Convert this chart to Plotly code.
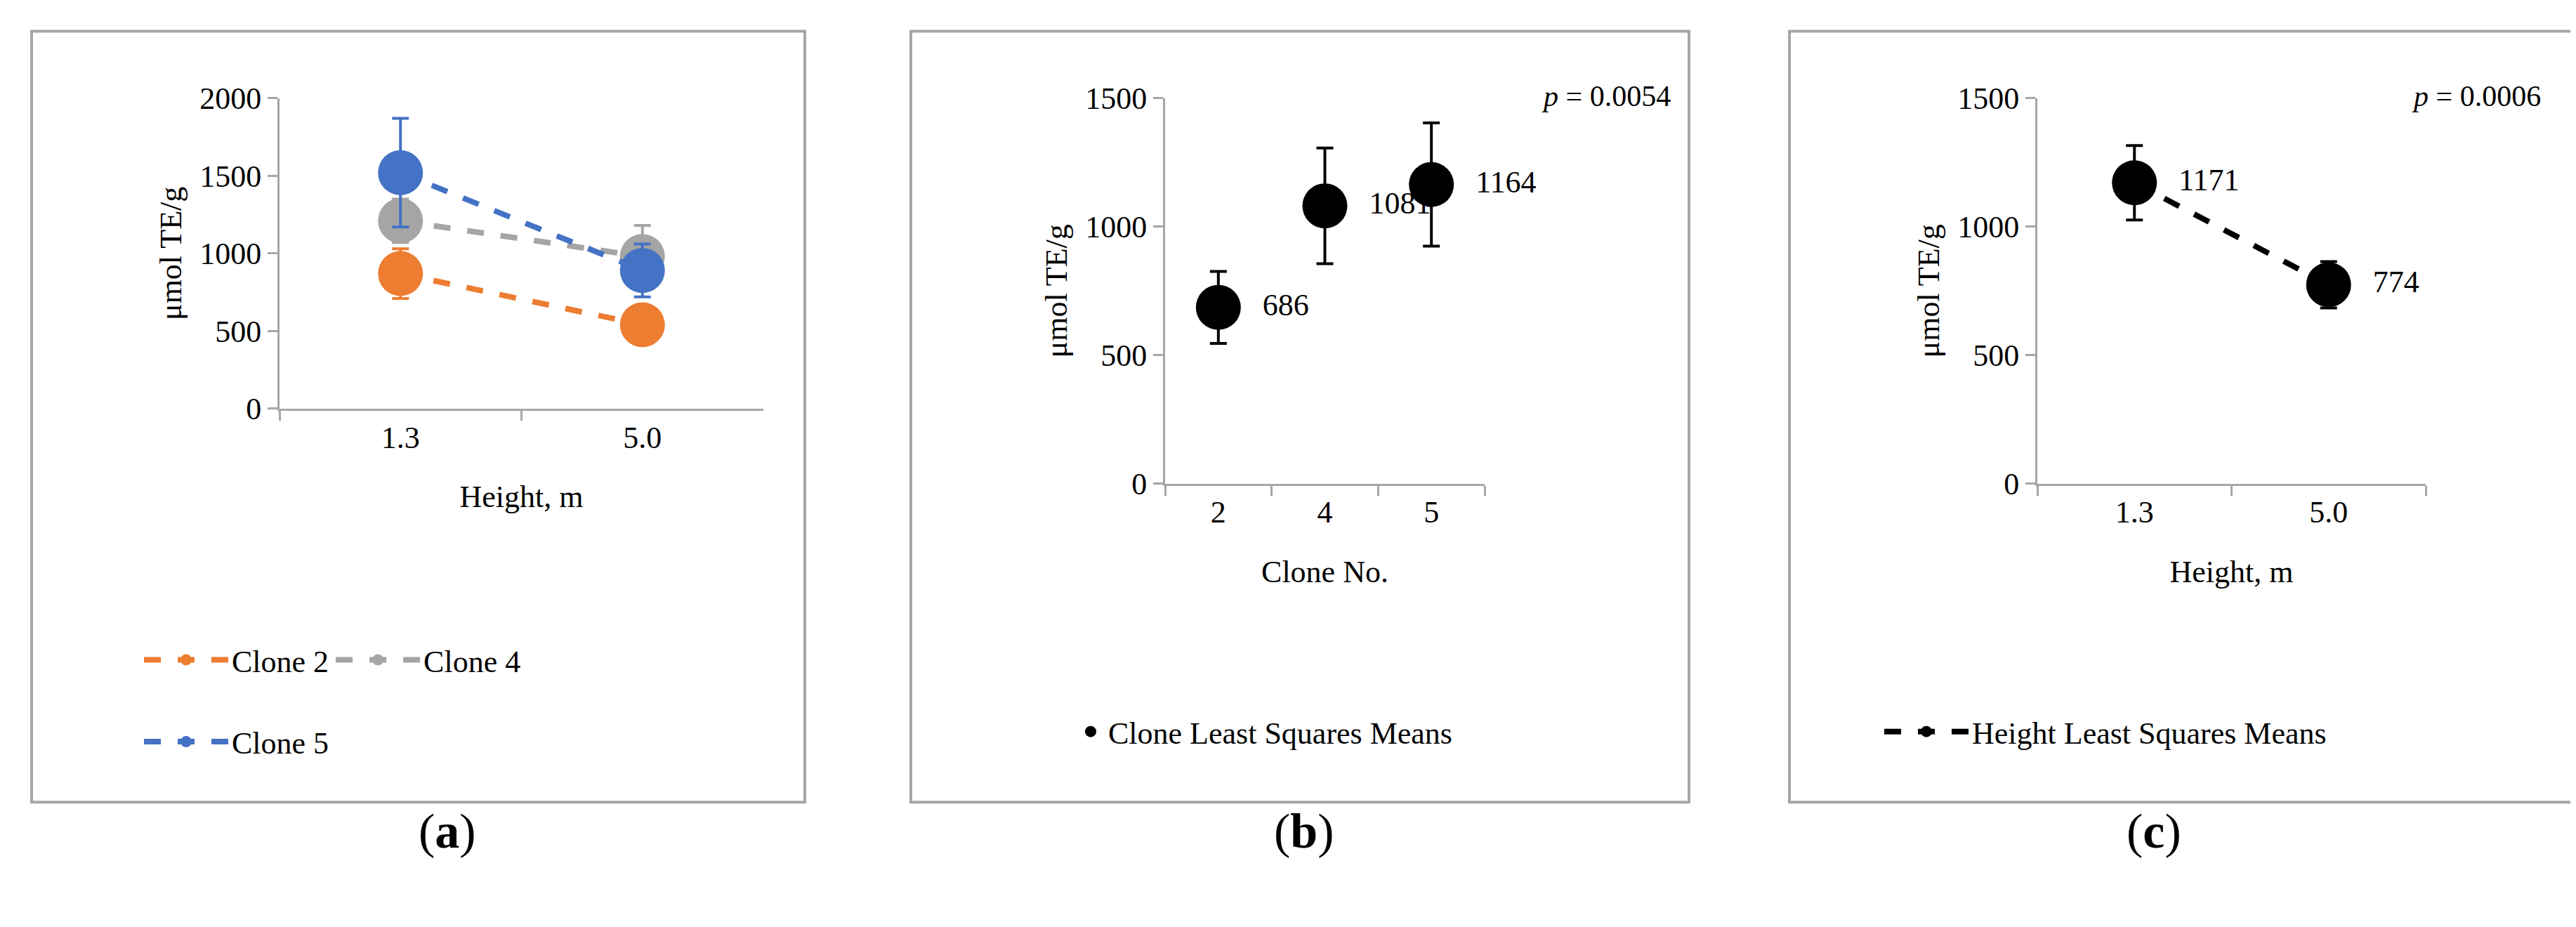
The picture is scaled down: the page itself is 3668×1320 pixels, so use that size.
import plotly.graph_objects as go

heights = ["1.3", "5.0"]
clone2 = [870, 540]; clone2_err = [160, 100]
clone4 = [1210, 980]; clone4_err = [140, 200]
clone5 = [1520, 890]; clone5_err = [350, 170]
clones = ["2", "4", "5"]
clone_means = [686, 1081, 1164]; clone_err = [140, 225, 240]
height_means = [1171, 774]; height_err = [145, 90]

FONT = "Liberation Serif"
AX = "#a6a6a6"
W, H = 3668, 1320
fig = go.Figure()

def add_series(x, y, err, color, name, xa, ya, legend, mode="lines+markers", text=None):
    fig.add_trace(go.Scatter(
        x=x, y=y, xaxis=xa, yaxis=ya, name=name, legend=legend, mode=mode,
        line=dict(color=color, width=8, dash="dash"),
        marker=dict(color=color, size=64),
        error_y=dict(type="data", array=err, color=color, thickness=4, width=12),
        text=text, textposition="middle right",
        textfont=dict(family=FONT, size=44, color="black"),
        cliponaxis=False))

add_series(heights, clone2, clone2_err, "#ed7d31", "Clone 2", "x", "y", "legend")
add_series(heights, clone4, clone4_err, "#a5a5a5", "Clone 4", "x", "y", "legend")
add_series(heights, clone5, clone5_err, "#4472c4", "Clone 5", "x", "y", "legend2")
add_series(clones, clone_means, clone_err, "black", "Clone Least Squares Means", "x2", "y2", "legend3",
           mode="markers+text", text=["  " + str(v) for v in clone_means])
add_series(heights, height_means, height_err, "black", "Height Least Squares Means", "x3", "y3", "legend4",
           mode="lines+markers+text", text=["  " + str(v) for v in height_means])

tf = dict(family=FONT, size=44, color="black")
xcommon = dict(type="category", tickson="boundaries", ticks="outside", ticklen=14, tickcolor=AX, tickwidth=3,
               showline=True, linecolor=AX, linewidth=3, showgrid=False, tickfont=tf,
               title_font=tf, zeroline=False, title_standoff=45)
ycommon = dict(ticks="outside", ticklen=14, tickcolor=AX, tickwidth=3, showline=True, linecolor=AX, linewidth=3,
               showgrid=False, tickfont=tf, title_font=tf, zeroline=False, title_text="μmol TE/g",
               title_standoff=12)

def px(x0, x1): return [x0 / W, x1 / W]
def py(top, bottom): return [1 - bottom / H, 1 - top / H]

fig.update_layout(
    width=W, height=H, margin=dict(l=0, r=0, t=0, b=0),
    paper_bgcolor="white", plot_bgcolor="white", font=dict(family=FONT),
    xaxis=dict(xcommon, domain=px(390, 1079), anchor="y", title_text="Height, m", range=[-0.5, 1.5]),
    yaxis=dict(ycommon, domain=py(112, 571), anchor="x", range=[0, 2000], dtick=500),
    xaxis2=dict(xcommon, domain=px(1651, 2106), anchor="y2", title_text="Clone No.", range=[-0.5, 2.5]),
    yaxis2=dict(ycommon, domain=py(112, 682), anchor="x2", range=[0, 1500], dtick=500),
    xaxis3=dict(xcommon, domain=px(2893, 3446), anchor="y3", title_text="Height, m", range=[-0.5, 1.5]),
    yaxis3=dict(ycommon, domain=py(112, 682), anchor="x3", range=[0, 1500], dtick=500),
    legend=dict(x=192 / W, y=1 - 943 / H, xanchor="left", yanchor="middle", orientation="h", font=tf, itemwidth=120),
    legend2=dict(x=192 / W, y=1 - 1064 / H, xanchor="left", yanchor="middle", orientation="h", font=tf, itemwidth=120),
    legend3=dict(x=1520 / W, y=1 - 1049 / H, xanchor="left", yanchor="middle", orientation="h", font=tf, itemwidth=40),
    legend4=dict(x=2670 / W, y=1 - 1049 / H, xanchor="left", yanchor="middle", orientation="h", font=tf, itemwidth=120),
)

for x0, x1 in [(37, 1138), (1289, 2397), (2540, 3655)]:
    fig.add_shape(type="rect", xref="paper", yref="paper", x0=x0 / W, x1=x1 / W,
                  y0=1 - 1153 / H, y1=1 - 13 / H, line=dict(color=AX, width=4))

for xc, lab in [(586, "a"), (1849, "b"), (3100, "c")]:
    fig.add_annotation(x=xc / W, y=1 - 1238 / H, xref="paper", yref="paper", showarrow=False,
                       text=f"(<b>{lab}</b>)", font=dict(family=FONT, size=70, color="black"))
for xr, p in [(2373, "0.0054"), (3612, "0.0006")]:
    fig.add_annotation(x=xr / W, y=1 - 83 / H, xref="paper", yref="paper", showarrow=False,
                       xanchor="right", text=f"<i>p</i> = {p}", font=dict(family=FONT, size=42, color="black"))

fig.write_html("out.html")
